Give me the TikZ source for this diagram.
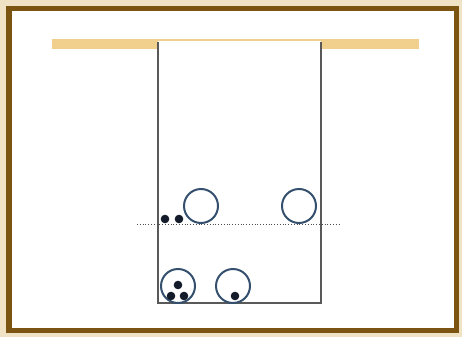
\documentclass[tikz,border=0pt]{standalone}
\usepackage{tikz}
\usetikzlibrary{positioning}
\definecolor{framebrown}{HTML}{7A5410}
\definecolor{paper}{HTML}{F0E2C4}
\definecolor{lidtan}{HTML}{F0D08C}
\definecolor{ringblue}{HTML}{34506E}
\definecolor{dotnavy}{HTML}{141C2C}
\tikzset{
  ring/.style={draw=ringblue, line width=2pt, fill=white},
  grain/.style={fill=dotnavy, draw=none},
}
\begin{document}
\begin{tikzpicture}[x=1pt,y=-1pt]
\fill[paper] (0,0) rectangle (462,337);
\draw[framebrown, line width=5.5pt, fill=white] (9,8.5) rectangle (456.5,330.5);
\useasboundingbox (0,0) rectangle (462,337);

% lid, open above the jar
\fill[lidtan] (52,39.5) rectangle (419,48.5);
\fill[white] (158,41.5) rectangle (321,303);
\draw[gray!70!black, line width=1.2pt] (158,42) -- (158,303) -- (321,303) -- (321,42);
\draw[dotted, gray!60!black, line width=0.8pt] (137,224.3) -- (341,224.3);

\draw[ring] (201,206) circle (17);
\draw[ring] (299,206) circle (17);
\draw[ring] (178,286) circle (17);
\draw[ring] (233,286) circle (17);

\fill[grain] (165,219) circle (4.3);
\fill[grain] (179,219) circle (4.3);
\fill[grain] (178,285) circle (4.3);
\fill[grain] (171,296) circle (4.3);
\fill[grain] (184,296) circle (4.3);
\fill[grain] (235,296) circle (4.3);
\end{tikzpicture}
\end{document}
